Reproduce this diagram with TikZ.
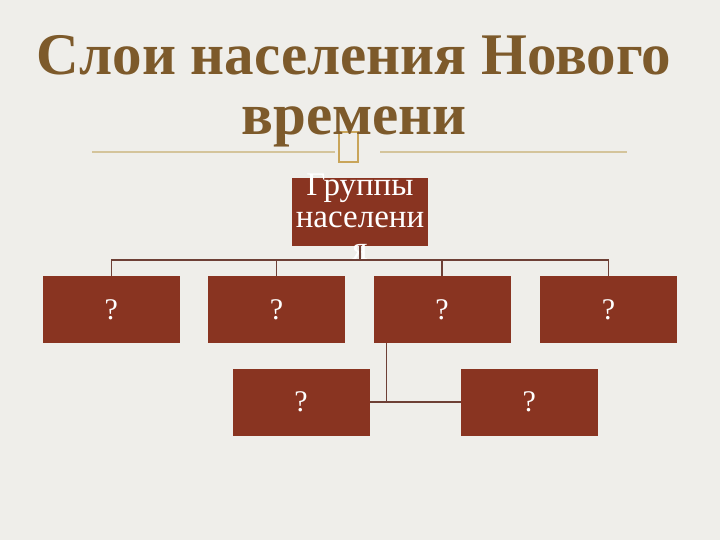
\documentclass[tikz,border=0pt]{standalone}
\usepackage{fontspec}
\setmainfont{Liberation Serif}
\usepackage{tikz}
\usetikzlibrary{positioning}
\definecolor{titlebrown}{HTML}{7D5A2B}
\definecolor{boxred}{HTML}{893421}
\definecolor{linkbrown}{HTML}{6E4036}
\definecolor{decotan}{HTML}{D4C49B}
\definecolor{decogold}{HTML}{C9A55A}
\definecolor{paper}{HTML}{EFEEEA}

\begin{document}
\begin{tikzpicture}[x=1pt,y=-1pt,
        heading/.style={text=titlebrown,font=\bfseries\fontsize{59}{60}\selectfont,anchor=base,inner sep=0pt},
        group/.style={rectangle,fill=boxred,minimum width=137pt,minimum height=67pt,inner sep=0pt,text=white,font=\fontsize{30}{32}\selectfont},
        link/.style={draw=linkbrown,line width=1.2pt}]
            % \tikzstyle{every node}=[font=\rmfamily]
            \fill[paper] (0,0) rectangle (720,540);
            \draw[decotan,line width=1.5pt] (92,152) -- (335,152);
            \draw[decotan,line width=1.5pt] (380,152) -- (627,152);
            \draw[decogold,line width=1.2pt] (339,132) rectangle (358,162);
            \node[heading] (title1) at (354,75) {Слои населения Нового};
            \node[heading] (title2) at ([yshift=-60pt]title1.base) {времени};

            \node[group,minimum width=136pt,minimum height=68pt] (top) at (360,212) {};
            \node[text=white,align=center,inner sep=0pt,font=\fontsize{33}{32}\selectfont] (toptext) at ([yshift=-5pt]top.center) {Группы\\населени\\я};
            \node[group] (b3) at (442,309.5) {?};
            \node[group] (b2) [left = 28pt of b3] {?};
            \node[group] (b1) [left = 28pt of b2] {?};
            \node[group] (b4) [right = 29pt of b3] {?};
            \node[group] (b5) at (301,402) {?};
            \node[group] (b6) [right = 91pt of b5] {?};

            \coordinate (bus) at (360,260);
            \coordinate (fork) at ([xshift=13pt]b3.south west);
            \path[link] (top.south) -- (bus);
            \path[link] (b1.north) |- (bus) -| (b4.north);
            \path[link] (b2.north) |- (bus);
            \path[link] (b3.north) |- (bus);
            \path[link] (fork) |- (b5.east);
            \path[link] (fork) |- (b6.west);
\end{tikzpicture}
\end{document}
